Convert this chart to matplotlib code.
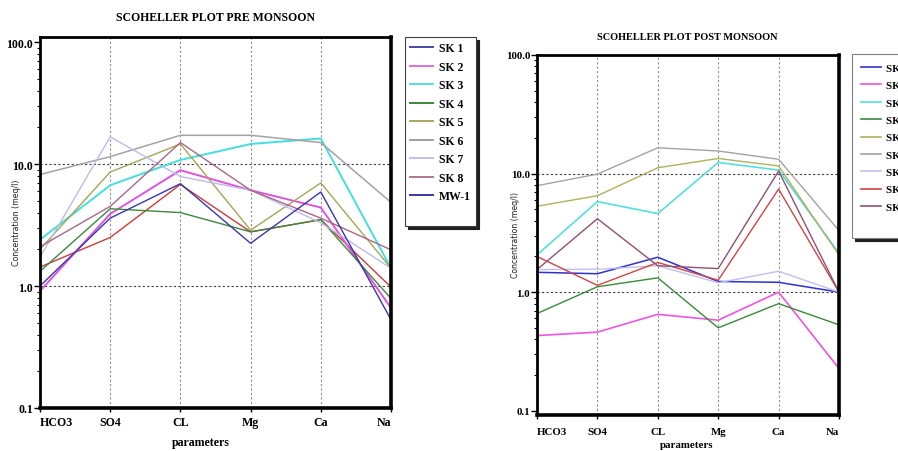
import matplotlib
matplotlib.use("Agg")
import matplotlib.pyplot as plt
from matplotlib.lines import Line2D
from matplotlib.ticker import FixedLocator, LogLocator, NullFormatter

params = ['HCO3', 'SO4', 'CL', 'Mg', 'Ca', 'Na']

pre_labels = ['SK 1', 'SK 2', 'SK 3', 'SK 4', 'SK 5', 'SK 6', 'SK 7', 'SK 8', 'MW-1']
pre_sk1 = [1.43, 2.5, 6.8, 2.78, 3.5, 0.98]
pre_sk2 = [0.91, 3.9, 8.9, 6.1, 4.4, 0.66]
pre_sk3 = [2.4, 6.7, 10.8, 14.6, 16.2, 1.4]
pre_sk4 = [1.32, 4.3, 4.0, 2.78, 3.5, 0.79]
pre_sk5 = [2.0, 8.6, 14.6, 2.87, 7.0, 1.4]
pre_sk6 = [8.2, 11.5, 17.2, 17.2, 15.0, 4.85]
pre_sk7 = [1.72, 16.7, 7.9, 6.1, 3.3, 1.4]
pre_sk8 = [2.1, 4.5, 15.0, 6.1, 3.6, 1.98]
pre_mw1 = [1.0, 3.6, 6.9, 2.24, 5.9, 0.53]

post_labels = ['SK 1', 'SK 2', 'SK 3', 'SK 4', 'SK 5', 'SK 6', 'SK 7', 'SK 8', 'SK 9']
post_sk1 = [1.47, 1.43, 1.97, 1.23, 1.21, 1.0]
post_sk2 = [0.43, 0.46, 0.65, 0.58, 1.0, 0.227]
post_sk3 = [2.06, 5.8, 4.6, 12.4, 10.7, 2.13]
post_sk4 = [0.66, 1.11, 1.32, 0.5, 0.8, 0.53]
post_sk5 = [5.3, 6.5, 11.2, 13.4, 11.6, 2.05]
post_sk6 = [7.9, 9.9, 16.5, 15.5, 13.2, 3.3]
post_sk7 = [1.55, 1.56, 1.67, 1.2, 1.5, 1.0]
post_sk8 = [2.0, 1.14, 1.78, 1.26, 7.4, 1.0]
post_sk9 = [1.55, 4.16, 1.67, 1.58, 10.5, 1.0]

pre_series = [pre_sk1, pre_sk2, pre_sk3, pre_sk4, pre_sk5, pre_sk6, pre_sk7, pre_sk8, pre_mw1]
post_series = [post_sk1, post_sk2, post_sk3, post_sk4, post_sk5, post_sk6, post_sk7, post_sk8, post_sk9]

pre_line_colors = ['#cc3b3b', '#dd55dd', '#44dede', '#3a8a3a', '#a5a555', '#a3a3a3', '#bcbcec', '#a86888', '#3838a8']
pre_legend_colors = ['#4848a8', '#e070e0', '#55e0e0', '#3a8a3a', '#a8a860', '#a0a0a0', '#c0c0f0', '#b07890', '#3838a8']
pre_widths = [1.0, 1.4, 1.4, 1.0, 1.0, 1.1, 1.0, 1.0, 1.0]

post_colors = ['#3030d0', '#ee55dd', '#55dede', '#3a8a3a', '#b0b060', '#a3a3a3', '#c0c0f2', '#d04545', '#905070']
post_widths = [1.1, 1.2, 1.2, 1.0, 1.0, 1.0, 1.0, 1.0, 1.0]

serif = ['Liberation Serif', 'DejaVu Serif']

W, H = 898, 452
fig = plt.figure(figsize=(W / 100, H / 100), dpi=100)


def style_axes(ax, ylim_top, ylim_bot, fs):
    ax.set_yscale('log')
    ax.set_xlim(0, len(params) - 1)
    ax.set_ylim(ylim_bot, ylim_top)
    ax.set_xticks(range(len(params)))
    ax.set_xticklabels(params, fontfamily=serif, fontweight='bold', fontsize=fs)
    labs = ax.get_xticklabels()
    labs[0].set_horizontalalignment('left')
    labs[-1].set_horizontalalignment('right')
    ax.yaxis.set_major_locator(FixedLocator([0.1, 1, 10, 100]))
    ax.set_yticklabels(['0.1', '1.0', '10.0', '100.0'], fontfamily=serif, fontweight='bold', fontsize=fs)
    ax.yaxis.set_minor_locator(LogLocator(base=10, subs=range(2, 10)))
    ax.yaxis.set_minor_formatter(NullFormatter())
    ax.tick_params(axis='y', which='major', length=4, width=1, pad=1)
    ax.tick_params(axis='y', which='minor', length=2, width=0.8)
    for x in range(1, len(params) - 1):
        ax.axvline(x, color='#909090', linestyle=(0, (2, 2)), linewidth=0.8, zorder=0)
    for y in [1, 10]:
        ax.axhline(y, color='#404040', linestyle=(0, (2, 2)), linewidth=0.8, zorder=0)
    for s in ax.spines.values():
        s.set_linewidth(2.0)
        s.set_color('black')
    ax.spines['right'].set_linewidth(2.6)
    ax.spines['bottom'].set_linewidth(2.6)


# Left panel
ax1 = fig.add_axes([40 / W, 1 - 409 / H, (391 - 40) / W, (409 - 38) / H])
for vals, c, lw in zip(pre_series, pre_line_colors, pre_widths):
    ax1.plot(range(len(params)), vals, color=c, linewidth=lw)
style_axes(ax1, 110, 0.1, 8.6)
ax1.tick_params(axis='x', length=3, width=1, pad=3)
fig.text(215 / W, 1 - 18 / H, 'SCOHELLER PLOT PRE MONSOON', fontfamily=serif, fontweight='bold',
         fontsize=8.5, ha='center', va='center')
fig.text(201 / W, 1 - 443 / H, 'parameters', fontfamily=serif, fontweight='bold', fontsize=8.6,
         ha='center', va='center')
fig.text(17 / W, 1 - 223 / H, 'Concentration (meq/l)', fontsize=5.7, rotation=90, ha='center', va='center',
         color='#222222')
handles1 = [Line2D([], [], color=c, linewidth=1.4) for c in pre_legend_colors]
handles1.append(Line2D([], [], color='none'))
leg1 = fig.legend(handles1, pre_labels + [' '], loc='upper left', bbox_to_anchor=(405 / W, 1 - 38 / H),
                  prop={'family': serif, 'weight': 'bold', 'size': 8.5}, frameon=True, fancybox=False,
                  shadow={'color': '#202020', 'alpha': 1.0}, borderpad=0.45, labelspacing=0.55,
                  handlelength=1.9, handletextpad=0.5, borderaxespad=0)
leg1.get_frame().set_edgecolor('#404040')
leg1.get_frame().set_linewidth(0.8)

# Right panel
ax2 = fig.add_axes([537 / W, 1 - 416 / H, (839 - 537) / W, (416 - 56) / H])
for vals, c, lw in zip(post_series, post_colors, post_widths):
    ax2.plot(range(len(params)), vals, color=c, linewidth=lw)
style_axes(ax2, 100, 0.092, 7.8)
ax2.tick_params(axis='x', length=3, width=1, pad=6)
fig.text(687 / W, 1 - 37 / H, 'SCOHELLER PLOT POST MONSOON', fontfamily=serif, fontweight='bold',
         fontsize=7.4, ha='center', va='center')
fig.text(687 / W, 1 - 446 / H, 'parameters', fontfamily=serif, fontweight='bold', fontsize=7.8,
         ha='center', va='center')
fig.text(515 / W, 1 - 235 / H, 'Concentration (meq/l)', fontsize=5.6, rotation=90, ha='center', va='center',
         color='#222222')
handles2 = [Line2D([], [], color=c, linewidth=1.2) for c in post_colors]
handles2.append(Line2D([], [], color='none'))
leg2 = fig.legend(handles2, post_labels + [' '], loc='upper left', bbox_to_anchor=(852 / W, 1 - 55 / H),
                  prop={'family': serif, 'weight': 'bold', 'size': 7.8}, frameon=True, fancybox=False,
                  shadow={'color': '#202020', 'alpha': 1.0}, borderpad=0.85, labelspacing=0.72,
                  handlelength=1.8, handletextpad=0.45, borderaxespad=0)
leg2.get_frame().set_edgecolor('#808080')
leg2.get_frame().set_linewidth(0.8)

fig.savefig('out.png', dpi=100)
